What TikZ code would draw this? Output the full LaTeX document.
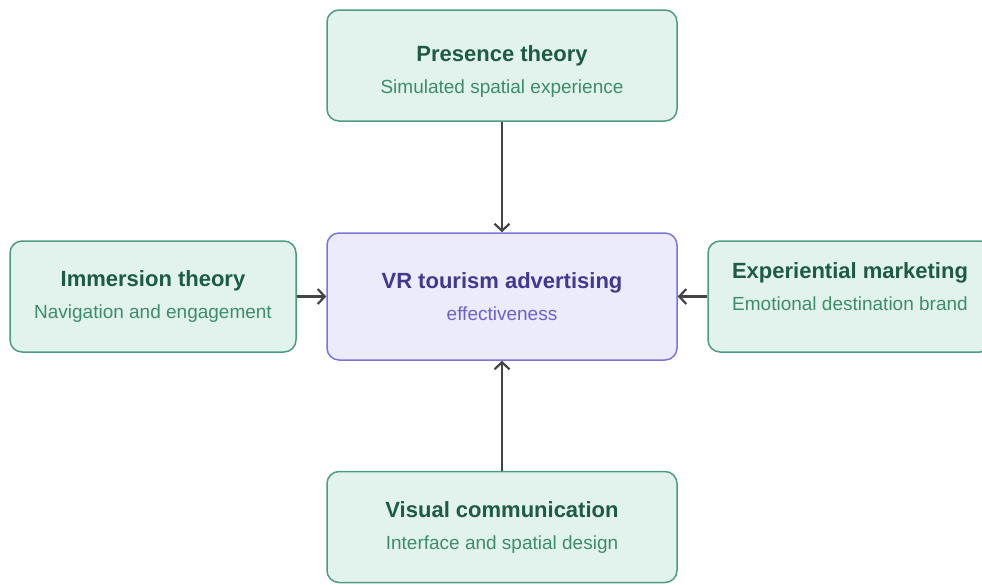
\documentclass[tikz,border=0pt]{standalone}
\usepackage{fontspec}
\setmainfont{Liberation Sans}
\usetikzlibrary{arrows.meta}

\definecolor{theoryfill}{HTML}{E1F3EC}
\definecolor{theoryline}{HTML}{4E9C7E}
\definecolor{theoryhead}{HTML}{1E5B45}
\definecolor{theorysub}{HTML}{3D8C6C}
\definecolor{corefill}{HTML}{ECEBFB}
\definecolor{coreline}{HTML}{7D74D8}
\definecolor{corehead}{HTML}{40398F}
\definecolor{coresub}{HTML}{6A61CC}
\definecolor{linkgray}{HTML}{444444}

\newcommand{\boxlines}[3]{{\fontsize{22}{32}\selectfont\bfseries #1}\\{\color{#3}#2}}

\begin{document}
\begin{tikzpicture}[x=1pt,y=-1pt,
  theory/.style={draw=theoryline, fill=theoryfill, line width=1.5pt, rounded corners=12pt,
    text=theoryhead, align=center, minimum height=111pt, inner sep=0pt,
    font=\fontsize{19}{32}\selectfont},
  core/.style={draw=coreline, fill=corefill, line width=1.5pt, rounded corners=12pt,
    text=corehead, align=center, minimum width=350pt, minimum height=127pt, inner sep=0pt,
    font=\fontsize{19}{32}\selectfont},
  link/.style={draw=linkgray, line width=2.2pt, -{Straight Barb[length=7pt,width=15pt]}}]

  \useasboundingbox (0,0) rectangle (982,584);
  \clip (0,0) rectangle (982,584);

  \node[core] (vrad) at (502,296.5) {\boxlines{VR tourism advertising}{effectiveness}{coresub}};

  % struts push the text a little down (top box) or up (right box)
  \node[theory, minimum width=350pt] (presence) at (502,65.5) {\boxlines{\rule{0pt}{27pt}Presence theory}{Simulated spatial experience}{theorysub}};
  \node[theory, minimum width=286pt] (immersion) at (153,296.5) {\boxlines{Immersion theory}{Navigation and engagement}{theorysub}};
  \node[theory, minimum width=284pt] (experiential) at (850,296.5) {\boxlines{Experiential marketing}{Emotional destination brand\rule[-19pt]{0pt}{0pt}}{theorysub}};
  \node[theory, minimum width=350pt] (visual) at (502,527) {\boxlines{Visual communication}{Interface and spatial design}{theorysub}};

  \draw[link] (presence) -- (vrad);
  \draw[link] (immersion) -- (vrad);
  \draw[link] (experiential) -- (vrad);
  \draw[link] (visual) -- (vrad);

\end{tikzpicture}
\end{document}
